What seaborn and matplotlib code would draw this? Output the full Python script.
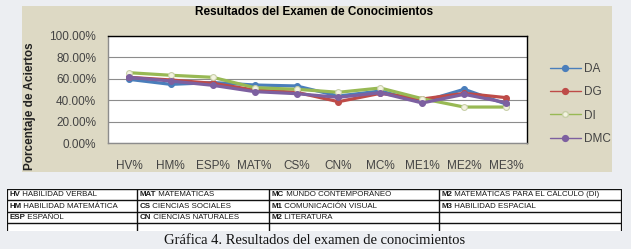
import matplotlib
matplotlib.use("Agg")
import matplotlib.pyplot as plt
import seaborn as sns
import pandas as pd
from matplotlib.patches import Rectangle
from matplotlib.lines import Line2D

# ---------------- data ----------------
categories = ["HV%", "HM%", "ESP%", "MAT%", "CS%", "CN%", "MC%", "ME1%", "ME2%", "ME3%"]
da = [59.5, 54.8, 56.5, 54.2, 53.3, 43.9, 48.6, 38.6, 50.2, 36.4]
dg = [61.4, 58.9, 55.8, 49.5, 47.4, 38.6, 46.4, 41.1, 46.4, 42.4]
di = [65.7, 63.3, 61.4, 51.7, 50.2, 47.4, 51.4, 41.4, 33.6, 33.6]
dmc = [61.4, 57.9, 53.9, 48.0, 46.1, 42.7, 47.0, 37.4, 45.5, 37.7]
series_names = ["DA", "DG", "DI", "DMC"]
y_ticks = [0, 20, 40, 60, 80, 100]

table_rows = [
    [("HV", "HABILIDAD VERBAL"), ("MAT", "MATEMÁTICAS"), ("MC", "MUNDO CONTEMPORÁNEO"), ("M2", "MATEMÁTICAS PARA EL CÁLCULO (DI)")],
    [("HM", "HABILIDAD MATEMÁTICA"), ("CS", "CIENCIAS SOCIALES"), ("M1", "COMUNICACIÓN VISUAL"), ("M3", "HABILIDAD ESPACIAL")],
    [("ESP", "ESPAÑOL"), ("CN", "CIENCIAS NATURALES"), ("M2", "LITERATURA"), ("", "")],
]
title = "Resultados del Examen de Conocimientos"
ylabel = "Porcentaje de Aciertos"
caption = "Gráfica 4. Resultados del examen de conocimientos"

# ---------------- styles ----------------
colors = {"DA": "#4a7ebb", "DG": "#be4b48", "DI": "#98b954", "DMC": "#7d60a0"}
marker_face = {"DA": "#4a7ebb", "DG": "#be4b48", "DI": "#f3f3e0", "DMC": "#7d60a0"}

sns.set_theme(style="white")
plt.rcParams["font.family"] = ["Liberation Sans", "DejaVu Sans"]

W, H = 631, 249
fig = plt.figure(figsize=(W / 100, H / 100), dpi=100)
fig.patch.set_facecolor("#eceef2")

def fx(px):
    return px / W

def fy(py):
    return 1 - py / H

# beige chart area
bg = Rectangle((fx(22), fy(172)), fx(612) - fx(22), fy(6) - fy(172),
               transform=fig.transFigure, facecolor="#ddd9c4", edgecolor="none", zorder=-5)
fig.patches.append(bg)

# plot axes
ax = fig.add_axes([fx(108), fy(143), fx(527) - fx(108), fy(36) - fy(143)])
ax.set_facecolor("white")

df = pd.DataFrame({
    "cat": categories * 4,
    "val": da + dg + di + dmc,
    "serie": sum([[s] * len(categories) for s in series_names], []),
})

for s in series_names:
    sub = df[df["serie"] == s]
    sns.pointplot(data=sub, x="cat", y="val", order=categories, color=colors[s],
                  errorbar=None, markers="o", linewidth=2.3, markersize=4.2,
                  ax=ax)
for line, s in zip(ax.lines, series_names):
    line.set_markerfacecolor(marker_face[s])
    line.set_markeredgecolor(colors[s] if s != "DI" else "#c8cfa8")
    line.set_markeredgewidth(0.8)
    line.set_zorder(3)

ax.set_ylim(0, 100)
ax.set_xlim(-0.5, len(categories) - 0.5)
ax.set_yticks(y_ticks)
ax.set_yticklabels([f"{v:.2f}%" for v in y_ticks])
ax.grid(axis="y", color="#8c8c8c", linewidth=0.8)
ax.grid(axis="x", visible=False)
ax.set_axisbelow(True)
ax.set_xlabel("")
ax.set_ylabel("")
ax.tick_params(axis="y", length=0, pad=8.5, labelsize=8.5, labelcolor="#444444")
ax.tick_params(axis="x", length=0, pad=12, labelsize=8.5, labelcolor="#444444")
for side in ["top", "right"]:
    ax.spines[side].set_color("black")
    ax.spines[side].set_linewidth(1.0)
for side in ["left", "bottom"]:
    ax.spines[side].set_color("#8c8c8c")
    ax.spines[side].set_linewidth(1.0)

# legend
handles = [Line2D([0], [0], color=colors[s], linewidth=1.0, marker="o", markersize=4.2,
                  markerfacecolor=marker_face[s],
                  markeredgecolor=colors[s] if s != "DI" else "#c8cfa8")
           for s in series_names]
leg = fig.legend(handles, series_names, loc="center left",
                 bbox_to_anchor=(fx(550), fy(104)), frameon=False,
                 fontsize=8.5, handlelength=2.6, handletextpad=0.3,
                 labelspacing=0.95, borderaxespad=0, borderpad=0)
for t in leg.get_texts():
    t.set_color("#444444")

# title
fig.text(fx(314), fy(12), title, ha="center", va="center", fontsize=8.5,
         fontweight="bold", color="black")

# y label, clipped to the beige area
yl = fig.text(fx(30), fy(42), ylabel, ha="center", va="top", rotation=90,
              fontsize=8.5, fontweight="bold", color="#222222")
yl.set_clip_path(bg)

# ---------------- table ----------------
tx0, tx1 = 7, 622
col_edges = [7, 137, 269, 439, 622]
row_edges = [189, 200, 211.5, 223]
tab_bottom = 231
tax = fig.add_axes([fx(tx0), fy(tab_bottom), fx(tx1) - fx(tx0), fy(189) - fy(tab_bottom)])
tax.set_xlim(tx0, tx1)
tax.set_ylim(tab_bottom, 189)
tax.axis("off")
tax.add_patch(Rectangle((tx0, 189), tx1 - tx0, tab_bottom - 189, facecolor="white",
                        edgecolor="none", zorder=0))
for yv in row_edges:
    tax.plot([tx0, tx1], [yv, yv], color="#111111", linewidth=1.0, solid_capstyle="butt")
for xv in col_edges:
    lw = 1.6 if xv in (tx0, tx1) else 1.0
    tax.plot([xv, xv], [189, tab_bottom], color="#111111", linewidth=lw, solid_capstyle="butt")

for r, row in enumerate(table_rows):
    yc = (row_edges[r] + row_edges[r + 1]) / 2 + 0.3
    for c, (abbr, desc) in enumerate(row):
        if not abbr:
            continue
        t1 = tax.text(col_edges[c] + 2.3, yc, abbr, fontsize=5.7, fontweight="bold",
                      ha="left", va="center", color="#1a1a1a")
        tax.annotate(" " + desc, xy=(1, 0), xycoords=t1, va="bottom", ha="left",
                     fontsize=5.7, color="#1a1a1a")

# caption
fig.text(fx(315), fy(240), caption, ha="center", va="center", fontsize=10.5,
         family=["Liberation Serif", "DejaVu Serif"], color="#111111")

fig.savefig("out.png", dpi=100, facecolor=fig.get_facecolor())
